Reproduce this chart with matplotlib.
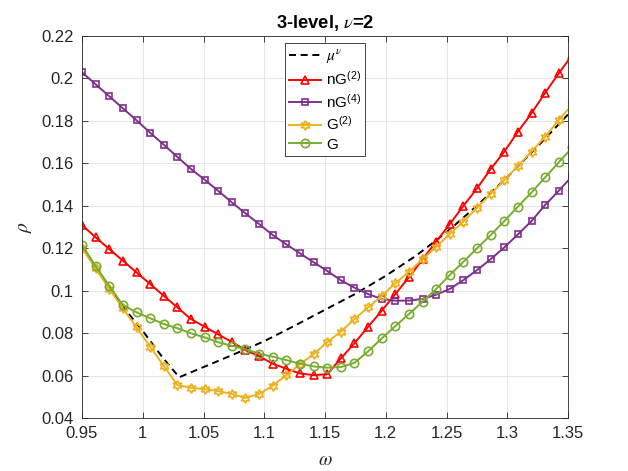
import numpy as np
import matplotlib.pyplot as plt
from matplotlib.ticker import FuncFormatter

# --- sampling grid (last point sits just past the right edge and gets clipped) ---
omega = np.linspace(0.95, 1.3536, 37)

# --- series ---
nG2 = [0.1309, 0.1251, 0.1196, 0.1141, 0.1086, 0.1031, 0.0976, 0.0921, 0.0866, 0.0830,
       0.0794, 0.0758, 0.0720, 0.0691, 0.0656, 0.0632, 0.0610, 0.0602, 0.0606, 0.0681,
       0.0752, 0.0830, 0.0905, 0.0984, 0.1063, 0.1148, 0.1231, 0.1314, 0.1400, 0.1482,
       0.1573, 0.1655, 0.1749, 0.1836, 0.1933, 0.2024, 0.2112]
nG4 = [0.2029, 0.1972, 0.1916, 0.1859, 0.1803, 0.1744, 0.1688, 0.1630, 0.1573, 0.1523,
       0.1470, 0.1416, 0.1364, 0.1314, 0.1262, 0.1218, 0.1176, 0.1134, 0.1093, 0.1049,
       0.1014, 0.0984, 0.0961, 0.0953, 0.0953, 0.0961, 0.0981, 0.1008, 0.1050, 0.1097,
       0.1148, 0.1204, 0.1265, 0.1328, 0.1404, 0.1471, 0.1540]
G2 = [0.1200, 0.1105, 0.1008, 0.0917, 0.0827, 0.0736, 0.0646, 0.0555, 0.0543, 0.0536,
      0.0527, 0.0513, 0.0495, 0.0513, 0.0552, 0.0602, 0.0654, 0.0701, 0.0757, 0.0807,
      0.0866, 0.0921, 0.0975, 0.1035, 0.1089, 0.1148, 0.1207, 0.1267, 0.1325, 0.1391,
      0.1455, 0.1521, 0.1587, 0.1655, 0.1725, 0.1804, 0.1878]
G = [0.1215, 0.1116, 0.1023, 0.0932, 0.0898, 0.0870, 0.0843, 0.0823, 0.0799, 0.0780,
     0.0757, 0.0740, 0.0724, 0.0703, 0.0689, 0.0673, 0.0656, 0.0643, 0.0637, 0.0640,
     0.0660, 0.0714, 0.0775, 0.0833, 0.0890, 0.0948, 0.1008, 0.1074, 0.1136, 0.1200,
     0.1262, 0.1328, 0.1396, 0.1463, 0.1534, 0.1605, 0.1675]

# mu^nu curve (no markers, own grid)
mu_w = [0.95, 0.9612, 0.9724, 0.9836, 1.0, 1.0158, 1.030, 1.05, 1.075, 1.10,
        1.125, 1.15, 1.175, 1.20, 1.225, 1.25, 1.275, 1.30, 1.325, 1.35]
mu = [0.1205, 0.1110, 0.1015, 0.0925, 0.0810, 0.0689, 0.0592, 0.0640, 0.0700, 0.0762,
      0.0835, 0.0910, 0.0985, 0.1070, 0.1165, 0.1275, 0.1400, 0.1535, 0.1680, 0.1830]

xticks = [0.95, 1.0, 1.05, 1.1, 1.15, 1.2, 1.25, 1.3, 1.35]
yticks = [0.04, 0.06, 0.08, 0.1, 0.12, 0.14, 0.16, 0.18, 0.2, 0.22]

# --- style (MATLAB look) ---
plt.rcParams['font.family'] = ['Liberation Sans', 'DejaVu Sans']
plt.rcParams['mathtext.fontset'] = 'stix'
axcol = '#262626'

fig = plt.figure(figsize=(6.28, 4.71), dpi=100)
ax = fig.add_axes([0.1306, 0.1125, 0.7739, 0.8111])

red = '#FF0000'
purple = '#7E2F8E'
gold = '#EDB120'
green = '#77AC30'

lw = 1.4
ms = 6
mew = 1.2

ax.plot(mu_w, mu, color='black', lw=1.4, linestyle=(0, (3.6, 2.4)), label=r'$\mu^\nu$')
ax.plot(omega, nG2, color=red, lw=lw, marker='^', ms=ms, mfc='none', mew=mew,
        label=r'nG$^{\mathregular{(2)}}$')
ax.plot(omega, nG4, color=purple, lw=lw, marker='s', ms=5, mfc='none', mew=mew,
        label=r'nG$^{\mathregular{(4)}}$')
ax.plot(omega, G2, color=gold, lw=lw, marker=(6, 1, 0), ms=7, mfc='none', mew=mew,
        label=r'G$^{\mathregular{(2)}}$')
ax.plot(omega, G, color=green, lw=lw, marker='o', ms=ms, mfc='none', mew=mew,
        label='G')

ax.set_xlim(0.95, 1.35)
ax.set_ylim(0.04, 0.22)
ax.set_xticks(xticks)
ax.set_yticks(yticks)
ax.xaxis.set_major_formatter(FuncFormatter(lambda v, p: f'{v:g}'))
ax.yaxis.set_major_formatter(FuncFormatter(lambda v, p: f'{v:g}'))

ax.grid(True, color='#DFDFDF', lw=0.6)
ax.set_axisbelow(True)
ax.tick_params(direction='in', length=4, width=0.6, colors=axcol, labelsize=12,
               top=True, right=True, pad=6)
for s in ax.spines.values():
    s.set_color(axcol)
    s.set_linewidth(0.6)

ax.set_xlabel(r'$\omega$', fontsize=14, color=axcol, labelpad=8)
ax.set_ylabel(r'$\rho$', fontsize=14, color=axcol, labelpad=5)
ax.set_title(r'3-level, $\nu$=2', fontsize=13.2, fontweight='bold', color='black', pad=6)

leg = ax.legend(loc='upper center', bbox_to_anchor=(0.5, 0.982), fontsize=11,
                fancybox=False, edgecolor=axcol, framealpha=1, handlelength=2.1,
                handletextpad=0.3, labelspacing=0.3, borderpad=0.3, borderaxespad=0)
leg.get_frame().set_linewidth(0.6)

fig.savefig('out.png', dpi=100, facecolor='white')
